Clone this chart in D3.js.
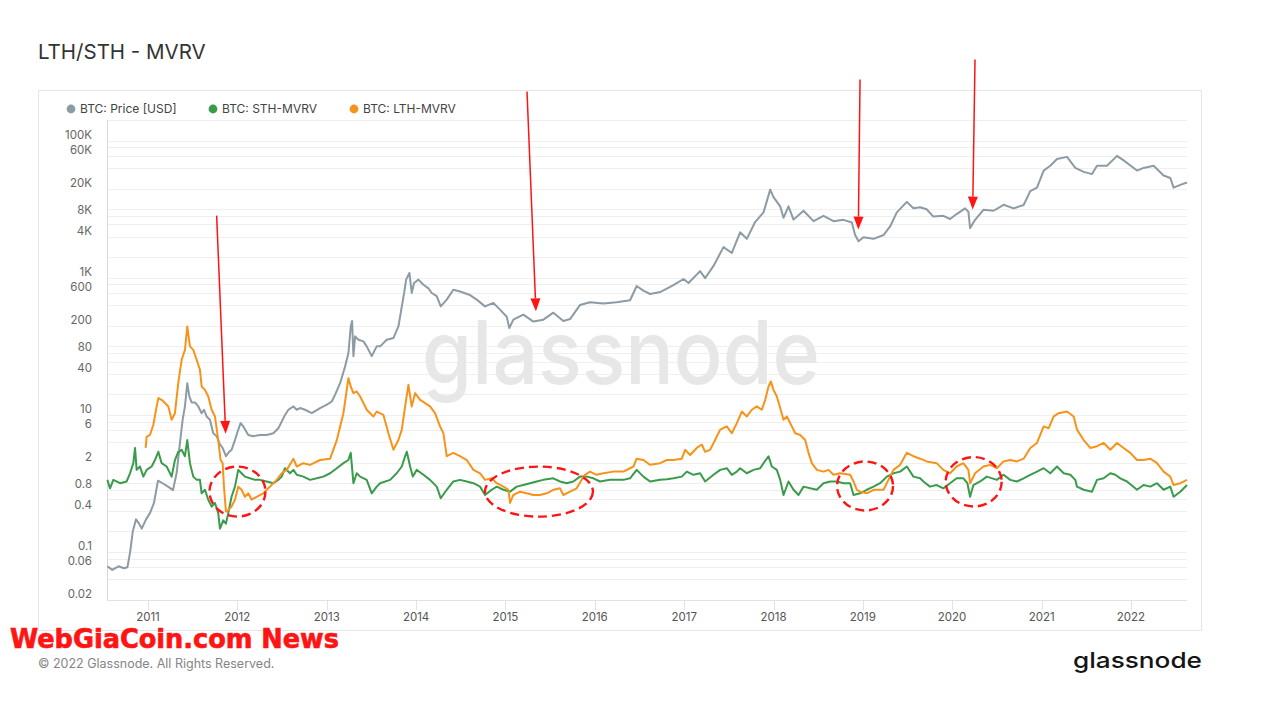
<!DOCTYPE html>
<html><head><meta charset="utf-8">
<script src="https://cdn.jsdelivr.net/npm/d3@7"></script>
<style>
html,body{margin:0;padding:0;background:#fff;}
svg{display:block;font-family:Inter,"Noto Sans",sans-serif;}
</style></head><body>
<svg id="c" width="1285" height="721"></svg>
<script>
// ---- data (decimal year, value) ----
const priceData = [[2010.545,0.062],[2010.60,0.055],[2010.67,0.062],[2010.73,0.058],[2010.77,0.06],[2010.80,0.1],[2010.83,0.2],[2010.866,0.3],[2010.90,0.26],[2010.93,0.22],[2010.978,0.3],[2011.022,0.37],[2011.067,0.52],[2011.112,1.1],[2011.168,1.0],[2011.224,0.9],[2011.28,0.8],[2011.321,1.42],[2011.358,3.9],[2011.388,8.5],[2011.414,13.3],[2011.44,29],[2011.463,18.6],[2011.489,15.2],[2011.526,15.2],[2011.563,13.3],[2011.601,10.6],[2011.627,11.9],[2011.657,9.5],[2011.694,8.5],[2011.731,5.4],[2011.769,4.9],[2011.798,3.9],[2011.836,3.3],[2011.873,2.5],[2011.899,2.8],[2011.936,3.1],[2011.974,4.3],[2012.011,6.1],[2012.037,7.6],[2012.067,6.8],[2012.123,5.1],[2012.179,4.9],[2012.254,5.1],[2012.328,5.1],[2012.403,5.4],[2012.459,6.4],[2012.496,8.0],[2012.533,10],[2012.571,11.9],[2012.627,13.3],[2012.664,11.9],[2012.701,12.6],[2012.757,11.9],[2012.832,10.6],[2012.925,12.6],[2013.0,14.1],[2013.056,15.7],[2013.093,19.8],[2013.149,29],[2013.205,51],[2013.242,80],[2013.268,195],[2013.283,235],[2013.298,72],[2013.317,140],[2013.354,125],[2013.41,118],[2013.447,100],[2013.503,72],[2013.559,100],[2013.597,100],[2013.671,125],[2013.746,132],[2013.802,195],[2013.84,383],[2013.866,600],[2013.888,940],[2013.925,1175],[2013.951,600],[2013.977,840],[2014.026,940],[2014.082,790],[2014.138,700],[2014.175,600],[2014.231,540],[2014.276,383],[2014.343,480],[2014.417,670],[2014.492,630],[2014.604,560],[2014.679,480],[2014.772,383],[2014.865,430],[2014.94,343],[2015.015,270],[2015.044,185],[2015.089,245],[2015.201,290],[2015.313,230],[2015.425,245],[2015.537,310],[2015.649,235],[2015.724,250],[2015.835,400],[2015.947,440],[2016.096,420],[2016.246,440],[2016.395,470],[2016.469,760],[2016.544,650],[2016.619,580],[2016.731,620],[2016.88,780],[2016.992,960],[2017.048,840],[2017.178,1250],[2017.234,990],[2017.328,1490],[2017.44,2800],[2017.533,2300],[2017.626,4600],[2017.701,3700],[2017.794,6500],[2017.888,9000],[2017.963,19300],[2018.0,15000],[2018.075,11000],[2018.112,7500],[2018.168,11000],[2018.224,7050],[2018.336,9500],[2018.448,6700],[2018.56,8000],[2018.672,6700],[2018.784,7000],[2018.877,6400],[2018.914,4200],[2018.952,3400],[2019.008,3900],[2019.12,3700],[2019.232,4200],[2019.306,5600],[2019.381,9000],[2019.493,12800],[2019.567,10300],[2019.642,10700],[2019.715,10000],[2019.79,7800],[2019.902,8000],[2019.977,7200],[2020.051,8500],[2020.145,10300],[2020.182,9200],[2020.201,5300],[2020.257,7000],[2020.35,9800],[2020.463,9500],[2020.575,11600],[2020.687,10300],[2020.799,11500],[2020.873,18400],[2020.948,20600],[2021.023,36600],[2021.097,43100],[2021.172,54000],[2021.284,58000],[2021.377,40000],[2021.471,35000],[2021.564,32500],[2021.62,43100],[2021.732,43100],[2021.844,60000],[2021.918,51500],[2022.068,36600],[2022.142,40000],[2022.254,43100],[2022.366,31000],[2022.441,28500],[2022.478,20600],[2022.553,22600],[2022.628,24500]];

const sthData = [[2010.545,1.13],[2010.575,0.85],[2010.612,1.13],[2010.687,1.01],[2010.761,1.07],[2010.799,1.41],[2010.836,1.98],[2010.855,3.3],[2010.873,1.58],[2010.91,1.77],[2010.948,1.26],[2010.985,1.58],[2011.041,1.77],[2011.078,2.2],[2011.116,2.9],[2011.153,1.98],[2011.209,1.77],[2011.265,1.26],[2011.302,2.2],[2011.339,2.9],[2011.377,3.1],[2011.414,2.5],[2011.44,4.3],[2011.47,1.98],[2011.507,1.26],[2011.545,1.13],[2011.582,1.13],[2011.601,0.72],[2011.638,0.81],[2011.675,0.58],[2011.713,0.46],[2011.75,0.52],[2011.787,0.37],[2011.806,0.22],[2011.843,0.29],[2011.873,0.26],[2011.899,0.37],[2011.936,0.64],[2011.974,0.9],[2012.011,1.58],[2012.048,1.41],[2012.086,1.26],[2012.142,1.19],[2012.198,1.13],[2012.254,1.13],[2012.328,1.07],[2012.403,1.01],[2012.459,1.13],[2012.496,1.26],[2012.533,1.67],[2012.589,1.41],[2012.627,1.58],[2012.664,1.34],[2012.738,1.26],[2012.813,1.13],[2012.888,1.19],[2012.962,1.26],[2013.037,1.41],[2013.112,1.67],[2013.186,1.98],[2013.242,2.2],[2013.268,2.8],[2013.298,1.01],[2013.335,1.41],[2013.373,1.26],[2013.447,1.13],[2013.503,0.72],[2013.559,0.9],[2013.597,1.01],[2013.709,1.13],[2013.783,1.41],[2013.84,1.77],[2013.877,2.5],[2013.896,2.9],[2013.933,1.77],[2013.963,1.26],[2014.007,1.58],[2014.082,1.34],[2014.156,1.13],[2014.231,0.9],[2014.276,0.61],[2014.343,0.81],[2014.417,1.07],[2014.492,1.13],[2014.567,1.07],[2014.642,1.01],[2014.716,0.9],[2014.772,0.68],[2014.847,0.81],[2014.903,0.9],[2014.978,0.81],[2015.052,0.76],[2015.127,0.9],[2015.201,0.95],[2015.276,1.01],[2015.35,1.07],[2015.425,1.13],[2015.537,1.19],[2015.612,1.07],[2015.686,1.01],[2015.761,1.07],[2015.835,1.26],[2015.91,1.26],[2015.985,1.19],[2016.06,1.07],[2016.171,1.13],[2016.321,1.13],[2016.395,1.19],[2016.469,1.58],[2016.544,1.26],[2016.619,1.07],[2016.731,1.13],[2016.806,1.15],[2016.88,1.19],[2016.973,1.26],[2017.029,1.49],[2017.104,1.34],[2017.178,1.41],[2017.234,1.07],[2017.328,1.34],[2017.403,1.58],[2017.477,1.67],[2017.533,1.34],[2017.589,1.49],[2017.626,1.67],[2017.701,1.41],[2017.776,1.58],[2017.851,1.67],[2017.888,1.98],[2017.944,2.5],[2017.981,1.77],[2018.037,1.58],[2018.075,1.13],[2018.112,0.68],[2018.168,1.07],[2018.224,0.81],[2018.28,0.68],[2018.336,0.9],[2018.411,0.85],[2018.485,0.81],[2018.56,1.01],[2018.635,1.07],[2018.709,1.07],[2018.784,1.01],[2018.858,1.01],[2018.896,0.68],[2018.97,0.72],[2019.045,0.81],[2019.12,0.9],[2019.194,1.01],[2019.269,1.26],[2019.343,1.41],[2019.418,1.49],[2019.493,1.77],[2019.567,1.26],[2019.642,1.19],[2019.678,1.07],[2019.752,0.9],[2019.827,0.95],[2019.902,0.85],[2019.977,1.01],[2020.051,1.19],[2020.126,1.19],[2020.171,1.01],[2020.201,0.64],[2020.238,0.95],[2020.313,1.07],[2020.388,1.26],[2020.5,1.13],[2020.575,1.34],[2020.649,1.13],[2020.724,1.07],[2020.799,1.19],[2020.873,1.34],[2020.948,1.49],[2021.023,1.67],[2021.097,1.41],[2021.172,1.77],[2021.247,1.41],[2021.321,1.34],[2021.377,1.13],[2021.396,0.9],[2021.471,0.81],[2021.564,0.76],[2021.62,1.13],[2021.695,1.19],[2021.769,1.41],[2021.825,1.34],[2021.881,1.19],[2021.956,1.07],[2022.068,0.81],[2022.142,0.95],[2022.217,0.9],[2022.292,1.01],[2022.366,0.81],[2022.441,0.9],[2022.478,0.64],[2022.553,0.76],[2022.628,0.95]];

const lthData = [[2010.974,3.3],[2010.985,4.8],[2011.022,5.1],[2011.06,7.2],[2011.09,11.9],[2011.116,17.6],[2011.153,16.6],[2011.19,14.9],[2011.228,13.3],[2011.265,8.5],[2011.302,10.6],[2011.339,29.1],[2011.377,63.7],[2011.414,89],[2011.44,195],[2011.47,100],[2011.507,89],[2011.545,63.7],[2011.582,45.5],[2011.601,26],[2011.638,23.2],[2011.675,18.6],[2011.713,11.9],[2011.75,9.5],[2011.787,4.3],[2011.813,2.2],[2011.836,1.98],[2011.851,0.9],[2011.873,0.39],[2011.899,0.41],[2011.936,0.46],[2011.974,0.58],[2012.011,0.9],[2012.048,0.81],[2012.086,0.64],[2012.123,0.72],[2012.16,0.58],[2012.216,0.64],[2012.291,0.72],[2012.365,0.9],[2012.44,1.13],[2012.496,1.41],[2012.552,1.58],[2012.627,2.3],[2012.664,1.77],[2012.738,1.98],[2012.813,1.87],[2012.925,2.2],[2013.037,2.3],[2013.112,4.3],[2013.186,10.6],[2013.242,34.4],[2013.268,26],[2013.298,20.8],[2013.335,22],[2013.373,18.6],[2013.41,14.9],[2013.447,11.9],[2013.485,10.6],[2013.522,9.5],[2013.559,11.2],[2013.634,10.0],[2013.69,5.4],[2013.746,3.1],[2013.802,4.3],[2013.84,6.1],[2013.877,13.3],[2013.914,27.5],[2013.951,13.3],[2013.989,20.8],[2014.045,16.6],[2014.101,14.9],[2014.156,13.3],[2014.212,10.6],[2014.268,6.8],[2014.306,5.4],[2014.343,2.5],[2014.417,2.8],[2014.492,2.5],[2014.567,2.2],[2014.642,1.58],[2014.716,1.41],[2014.772,1.13],[2014.847,1.19],[2014.903,1.01],[2014.978,0.9],[2015.034,0.81],[2015.052,0.52],[2015.089,0.68],[2015.164,0.76],[2015.238,0.72],[2015.313,0.68],[2015.388,0.68],[2015.463,0.72],[2015.537,0.81],[2015.612,0.85],[2015.649,0.68],[2015.724,0.76],[2015.798,0.85],[2015.854,1.13],[2015.891,1.34],[2015.947,1.49],[2016.022,1.34],[2016.096,1.41],[2016.208,1.49],[2016.321,1.49],[2016.433,1.77],[2016.469,2.3],[2016.544,2.2],[2016.619,1.87],[2016.731,1.98],[2016.806,2.2],[2016.88,2.2],[2016.973,2.3],[2017.01,3.1],[2017.066,2.6],[2017.141,3.3],[2017.197,3.7],[2017.234,2.9],[2017.29,3.1],[2017.346,4.3],[2017.403,6.1],[2017.477,6.8],[2017.533,5.4],[2017.589,7.6],[2017.645,11.2],[2017.701,9.5],[2017.757,11.9],[2017.813,13.3],[2017.869,11.9],[2017.907,16.6],[2017.944,26],[2017.97,30.8],[2018.0,23.2],[2018.037,18.6],[2018.075,12.6],[2018.112,8.5],[2018.149,9.5],[2018.187,7.6],[2018.243,5.4],[2018.299,5.1],[2018.355,4.3],[2018.392,2.8],[2018.429,1.98],[2018.485,1.58],[2018.56,1.49],[2018.616,1.58],[2018.672,1.34],[2018.746,1.41],[2018.858,1.34],[2018.896,1.07],[2018.933,0.81],[2018.97,0.76],[2019.045,0.72],[2019.12,0.81],[2019.232,0.81],[2019.287,1.13],[2019.343,1.58],[2019.418,1.87],[2019.493,2.8],[2019.567,2.5],[2019.642,2.3],[2019.715,2.1],[2019.827,1.98],[2019.902,1.58],[2019.977,1.41],[2020.051,1.77],[2020.126,1.98],[2020.182,1.58],[2020.201,1.01],[2020.257,1.41],[2020.35,1.77],[2020.425,1.87],[2020.5,1.67],[2020.575,2.1],[2020.649,2.2],[2020.724,2.1],[2020.799,2.3],[2020.873,3.3],[2020.948,3.9],[2021.023,6.8],[2021.079,6.4],[2021.135,9.5],[2021.191,10.6],[2021.284,11.2],[2021.359,9.5],[2021.396,6.1],[2021.471,4.3],[2021.545,3.3],[2021.62,3.5],[2021.695,3.9],[2021.769,3.1],[2021.844,3.9],[2021.918,3.3],[2021.993,2.8],[2022.068,2.2],[2022.142,2.2],[2022.217,2.3],[2022.292,1.98],[2022.366,1.49],[2022.441,1.26],[2022.478,0.95],[2022.553,1.01],[2022.628,1.13]];

const years = [2011,2012,2013,2014,2015,2016,2017,2018,2019,2020,2021,2022];
const gridValues = [0.02,0.04,0.06,0.08,0.1,0.2,0.4,0.6,0.8,1,2,4,6,8,10,20,40,60,80,100,200,400,600,800,1000,2000,4000,6000,8000,10000,20000,40000,60000,80000,100000,200000];
const tickLabels = [[100000,"100K"],[60000,"60K"],[20000,"20K"],[8000,"8K"],[4000,"4K"],[1000,"1K"],[600,"600"],[200,"200"],[80,"80"],[40,"40"],[10,"10"],[6,"6"],[2,"2"],[0.8,"0.8"],[0.4,"0.4"],[0.1,"0.1"],[0.06,"0.06"],[0.02,"0.02"]];
const seriesNames = ["BTC: Price [USD]","BTC: STH-MVRV","BTC: LTH-MVRV"];
const seriesColors = ["#8c9ba4","#3a9b4b","#f7931a"];
// annotations in data space: arrows [fromYear, fromValue, toYear, toValue]
const arrows = [[2011.769,8070,2011.870,5.3],[2015.242,521000,2015.342,324],[2018.969,780000,2018.950,5040],[2020.256,1530000,2020.230,9870]];
// ellipses [centerYear, centerValue, rx, ry]
const ellipses = [[2012.002,0.762,28,25],[2015.376,0.762,54,25],[2019.025,0.92,28,24.5],[2020.241,1.06,28,24.7]];

// ---- helpers ----
function toDate(t){const y=Math.floor(t);const a=Date.UTC(y,0,1),b=Date.UTC(y+1,0,1);return new Date(a+(t-y)*(b-a));}

const svg = d3.select("#c");
const L=107,R=1187,T=120,B=600;
const x = d3.scaleUtc().domain([toDate(2010.541),toDate(2022.628)]).range([L,R]);
const y = d3.scaleLog().domain([0.02,200000]).range([B,T]);

// title
svg.append("text").attr("x",38).attr("y",59).attr("font-size",20.5).attr("fill","#333").attr("font-weight",400).text("LTH/STH - MVRV");
// frame
svg.append("rect").attr("x",38.5).attr("y",90.5).attr("width",1163).attr("height",540).attr("fill","none").attr("stroke","#e6e6e6");

// legend
const lx=[71,213,354];
seriesNames.forEach((n,i)=>{
  svg.append("circle").attr("cx",lx[i]).attr("cy",109).attr("r",4.4).attr("fill",seriesColors[i]);
  svg.append("text").attr("x",lx[i]+9).attr("y",113).attr("font-size",12).attr("fill","#444").text(n);
});

// grid
svg.append("g").selectAll("line").data(gridValues).join("line")
  .attr("x1",L).attr("x2",R).attr("y1",d=>Math.round(y(d))+0.5).attr("y2",d=>Math.round(y(d))+0.5)
  .attr("stroke","#efefef").attr("stroke-width",1);

// y labels
svg.append("g").selectAll("text").data(tickLabels).join("text")
  .attr("x",92).attr("y",d=>y(d[0])-2).attr("text-anchor","end").attr("font-size",11.5).attr("fill","#666").text(d=>d[1]);

// axes lines
svg.append("line").attr("x1",L+0.5).attr("x2",L+0.5).attr("y1",T).attr("y2",B).attr("stroke","#d8d8d8");
svg.append("line").attr("x1",L).attr("x2",R).attr("y1",B+0.5).attr("y2",B+0.5).attr("stroke","#e2e2e2");

// x axis
const xa = svg.append("g");
years.forEach(yr=>{
  const px = x(new Date(Date.UTC(yr,0,1)));
  xa.append("line").attr("x1",Math.round(px)+0.5).attr("x2",Math.round(px)+0.5).attr("y1",B).attr("y2",B+10).attr("stroke","#e2e2e2");
  xa.append("text").attr("x",px).attr("y",621).attr("text-anchor","middle").attr("font-size",11.5).attr("fill","#555").text(yr);
});

// watermark
svg.append("text").attr("x",422).attr("y",384).attr("font-size",88).attr("font-weight",500)
  .attr("fill","#e7e7e7").attr("textLength",398).attr("lengthAdjust","spacingAndGlyphs").text("glassnode");

// lines
const line = d3.line().x(d=>x(toDate(d[0]))).y(d=>y(d[1]));
const g = svg.append("g").attr("fill","none").attr("stroke-width",2).attr("stroke-linejoin","round");
g.append("path").datum(priceData).attr("d",line).attr("stroke",seriesColors[0]);
g.append("path").datum(sthData).attr("d",line).attr("stroke",seriesColors[1]);
g.append("path").datum(lthData).attr("d",line).attr("stroke",seriesColors[2]);

// annotations
const red="#ff1414";
arrows.forEach(a=>{
  const x1=x(toDate(a[0])),y1=y(a[1]),x2=x(toDate(a[2])),y2=y(a[3]);
  const dx=x2-x1,dy=y2-y1,len=Math.hypot(dx,dy),ux=dx/len,uy=dy/len;
  const hl=13,hw=5;
  const bx=x2-ux*hl,by=y2-uy*hl;
  svg.append("line").attr("x1",x1).attr("y1",y1).attr("x2",bx).attr("y2",by).attr("stroke",red).attr("stroke-width",1.5);
  svg.append("path").attr("d",`M${x2},${y2}L${bx-uy*hw},${by+ux*hw}L${bx+uy*hw},${by-ux*hw}Z`).attr("fill",red);
});
ellipses.forEach(e=>{
  svg.append("ellipse").attr("cx",x(toDate(e[0]))).attr("cy",y(e[1])).attr("rx",e[2]).attr("ry",e[3])
    .attr("fill","none").attr("stroke",red).attr("stroke-width",2.4).attr("stroke-dasharray","9,5");
});

// footer
svg.append("text").attr("x",10).attr("y",648).attr("font-family","'Liberation Sans Narrow','DejaVu Sans Condensed','Liberation Sans',sans-serif")
  .attr("font-weight",700).attr("font-size",27).attr("fill",red).attr("stroke",red).attr("stroke-width",0.6)
  .attr("textLength",329).attr("lengthAdjust","spacingAndGlyphs").text("WebGiaCoin.com News");
svg.append("text").attr("x",38).attr("y",668).attr("font-size",12.5).attr("fill","#858585").text("© 2022 Glassnode. All Rights Reserved.");
svg.append("text").attr("x",1073).attr("y",668).attr("font-size",22).attr("font-weight",500).attr("fill","#151515")
  .attr("textLength",129).attr("lengthAdjust","spacingAndGlyphs").text("glassnode");
</script>
</body></html>
